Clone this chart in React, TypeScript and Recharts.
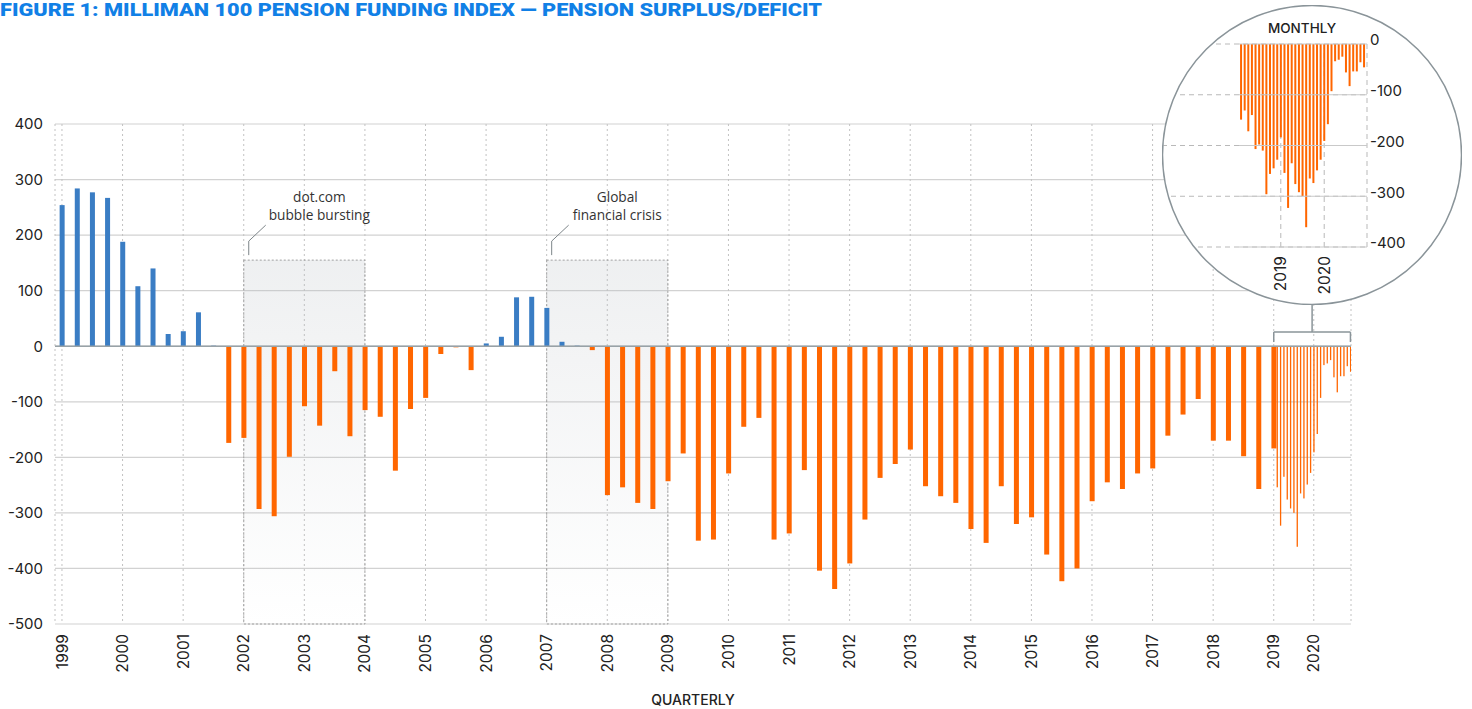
import React from 'react'
import {
  BarChart, Bar, XAxis, YAxis, CartesianGrid, ReferenceLine, ReferenceArea,
} from 'recharts'

// ── Data ──────────────────────────────────────────────────────────────────────

// Quarter-end surplus/deficit ($B), Dec 1998 → Dec 2018 (one bar per quarter)
const QUARTERLY_VALUES = [
  254, 284, 277, 267, 188, 108, 140, 22, 27, 61, 1,
  -174, -165, -293, -306, -199, -108, -143, -45, -162, -115,
  -127, -224, -113, -93, -14, -2, -43, 5, 17, 88,
  89, 69, 8, 1, -7, -268, -254, -282, -293, -243,
  -193, -350, -348, -229, -145, -129, -348, -337, -223, -404,
  -437, -391, -312, -237, -212, -186, -252, -270, -282, -329,
  -354, -252, -320, -308, -375, -423, -400, -279, -245, -257,
  -229, -220, -161, -123, -95, -170, -170, -198, -257, -184,
]

// Month-end, Jan 2018 → Nov 2020 (inset shows all, main chart from Jan 2019)
const MONTHLY_VALUES = [
  -149, -131, -172, -140, -207, -198, -210, -296, -256, -245, -228, -184,
  -254, -323, -235, -276, -292, -300, -361, -265, -274, -249, -228, -191,
  -158, -93, -34, -31, -25, -56, -83, -54, -54, -36, -46,
]

const YEAR_LABELS = [
  '1999', '2000', '2001', '2002', '2003', '2004', '2005', '2006', '2007', '2008', '2009',
  '2010', '2011', '2012', '2013', '2014', '2015', '2016', '2017', '2018', '2019', '2020',
]
const Y_TICKS = [400, 300, 200, 100, 0, -100, -200, -300, -400, -500]
const INSET_YEAR_LABELS = ['2019', '2020']
const INSET_Y_TICKS = [0, -100, -200, -300, -400]

const EVENTS = [
  { lines: ['dot.com', 'bubble bursting'], from: '2002', to: '2004', textDx: 15 },
  { lines: ['Global', 'financial crisis'], from: '2007', to: '2009', textDx: 10 },
]

// ── Layout helpers ────────────────────────────────────────────────────────────

const BLUE = '#3a7dc4'
const ORANGE = '#ff6600'
const FONT = 'Inter, "DejaVu Sans", sans-serif'

const Q_PX = 15.14                       // px per quarter slot
const MONTH_STEP = 40 / 12 / Q_PX        // monthly slots are squeezed after 2019
const LAST_Q = QUARTERLY_VALUES.length - 1
const FIRST_MONTH_IN_MAIN = 12           // Jan 2019

function posOfYear(label: string) {
  const y = Number(label)
  return y <= 2019 ? (y - 1999) * 4 : LAST_Q + (y - 2019) * 12 * MONTH_STEP
}

const mainData = [
  ...QUARTERLY_VALUES.map((v, i) => ({ pos: i, value: v, kind: 'q' })),
  ...MONTHLY_VALUES.slice(FIRST_MONTH_IN_MAIN).map((v, j) => ({
    pos: LAST_Q + (j + 1) * MONTH_STEP, value: v, kind: 'm',
  })),
]
const yearTicks = YEAR_LABELS.map(posOfYear)
const lastPos = mainData[mainData.length - 1].pos
const bracketMid = (LAST_Q + lastPos) / 2

const insetData = MONTHLY_VALUES.map((v, i) => ({ idx: i, value: v }))
// Year tick sits on the December bar of the previous year
const insetTicks = INSET_YEAR_LABELS.map(l => 11 + 12 * (Number(l) - 2019))

// ── Shapes ────────────────────────────────────────────────────────────────────

function MainBar(props: any) {
  const { x, y, width, height, payload } = props
  const w = payload.kind === 'm' ? 1.3 : 5
  const cx = x + width / 2
  const top = Math.min(y, y + height)
  return <rect x={cx - w / 2} y={top} width={w} height={Math.abs(height)} fill={payload.value >= 0 ? BLUE : ORANGE} />
}

function InsetBar(props: any) {
  const { x, y, width, height } = props
  const cx = x + width / 2
  const top = Math.min(y, y + height)
  return <rect x={cx - 1} y={top} width={2} height={Math.abs(height)} fill={ORANGE} />
}

function makeYearTick(labelOf: (v: number) => string) {
  return function YearTick(props: any) {
    const { x, y, payload } = props
    return (
      <text
        x={x} y={y} dy="0.36em"
        transform={`rotate(-90, ${x}, ${y})`}
        textAnchor="end"
        fontSize={15.5}
        fontFamily={FONT}
        fill="#222"
      >
        {labelOf(payload.value)}
      </text>
    )
  }
}

const MainYearTick = makeYearTick(v => YEAR_LABELS[yearTicks.findIndex(t => Math.abs(t - v) < 1e-6)] ?? '')
const InsetYearTick = makeYearTick(v => INSET_YEAR_LABELS[insetTicks.indexOf(v)] ?? '')

function InsetValueTick(props: any) {
  const { x, y, payload } = props
  return (
    <text x={x} y={y - 4} dy="0.35em" textAnchor="start" fontSize={15} fontFamily={FONT} fill="#222">
      {payload.value}
    </text>
  )
}

function eventLabel(lines: string[], textDx: number) {
  return function EventLabel(props: any) {
    const vb = props.viewBox
    if (!vb) return null
    const { x, y, width } = vb
    return (
      <g>
        <polyline
          points={`${x + 5},${y - 5} ${x + 5},${y - 19} ${x + 22},${y - 35}`}
          fill="none" stroke="#7d8589" strokeWidth={1}
        />
        {lines.map((ln, k) => (
          <text
            key={k}
            x={x + width / 2 + textDx}
            y={y - 58 + k * 18}
            textAnchor="middle"
            fontSize={13.7}
            fontFamily='"Open Sans", sans-serif'
            fill="#333"
          >
            {ln}
          </text>
        ))}
      </g>
    )
  }
}

// ── App ───────────────────────────────────────────────────────────────────────

export default function App() {
  return (
    <div style={{ position: 'absolute', left: 0, top: 0, width: 1472, height: 709, background: '#fff', overflow: 'hidden' }}>
      <svg width={830} height={20} style={{ position: 'absolute', left: 0, top: 0 }}>
        <text
          x={0} y={15.5}
          textLength={822} lengthAdjust="spacingAndGlyphs"
          fontSize={17.5} fontWeight={900}
          fontFamily='Roboto, sans-serif'
          fill="#1180e6"
        >
          FIGURE 1: MILLIMAN 100 PENSION FUNDING INDEX — PENSION SURPLUS/DEFICIT
        </text>
      </svg>

      <div style={{ position: 'absolute', left: 0, top: 0 }}>
        <BarChart width={1360} height={709} data={mainData} margin={{ top: 124, right: 9, bottom: 0, left: 0 }}>
          <defs>
            <linearGradient id="shade" x1="0" y1="0" x2="0" y2="1">
              <stop offset="0" stopColor="#b4bac0" stopOpacity={0.22} />
              <stop offset="1" stopColor="#b4bac0" stopOpacity={0} />
            </linearGradient>
          </defs>
          <CartesianGrid vertical={false} stroke="#d2d2d2" strokeWidth={1.2} />
          <CartesianGrid horizontal={false} stroke="#c2c2c2" strokeDasharray="2 3" />
          <XAxis
            type="number"
            dataKey="pos"
            domain={[-0.46, 85.1]}
            allowDataOverflow
            ticks={yearTicks}
            interval={0}
            height={85}
            axisLine={false}
            tickLine={false}
            tickSize={0}
            tickMargin={10}
            tick={<MainYearTick />}
          />
          <YAxis
            domain={[-500, 400]}
            ticks={Y_TICKS}
            interval={0}
            width={55}
            axisLine={false}
            tickLine={false}
            tickSize={0}
            tickMargin={12}
            tick={{ fontSize: 15, fill: '#222', fontFamily: FONT }}
          />
          {EVENTS.map(e => (
            <ReferenceArea
              key={e.from}
              x1={posOfYear(e.from)}
              x2={posOfYear(e.to)}
              y1={-500}
              y2={155}
              fill="url(#shade)"
              fillOpacity={1}
              stroke="#a0a0a0"
              strokeDasharray="2 2"
              strokeWidth={1}
              label={{ content: eventLabel(e.lines, e.textDx) } as any}
            />
          ))}
          <ReferenceLine y={0} stroke="#98a2a7" strokeWidth={1.5} />
          <Bar dataKey="value" shape={MainBar} isAnimationActive={false} />
          {/* bracket tying the monthly bars to the inset */}
          <ReferenceLine segment={[{ x: LAST_Q, y: 25.5 }, { x: lastPos, y: 25.5 }]} stroke="#8a9499" strokeWidth={1.5} />
          <ReferenceLine segment={[{ x: LAST_Q, y: 25.5 }, { x: LAST_Q, y: 7.5 }]} stroke="#8a9499" strokeWidth={1.5} />
          <ReferenceLine segment={[{ x: lastPos, y: 25.5 }, { x: lastPos, y: 7.5 }]} stroke="#8a9499" strokeWidth={1.5} />
          <ReferenceLine segment={[{ x: bracketMid, y: 25.5 }, { x: bracketMid, y: 90 }]} stroke="#8a9499" strokeWidth={1.5} />
        </BarChart>
      </div>

      <div style={{
        position: 'absolute', left: 593, top: 692, width: 200, textAlign: 'center',
        fontFamily: FONT, fontSize: 14, fontWeight: 500, lineHeight: '16px', color: '#222',
      }}>
        QUARTERLY
      </div>

      {/* Monthly inset */}
      <div style={{ position: 'absolute', left: 1162, top: 5, width: 300, height: 300 }}>
        <svg width={300} height={300} style={{ position: 'absolute', left: 0, top: 0 }}>
          <circle cx={150} cy={150} r={149.5} fill="#fff" />
        </svg>
        <div style={{ position: 'absolute', left: 0, top: 0, width: 300, height: 300, clipPath: 'circle(149px at 150px 150px)' }}>
          <BarChart width={300} height={300} data={insetData} margin={{ top: 39, right: 0, bottom: 0, left: 0 }}>
            <CartesianGrid stroke="#b9b9b9" strokeDasharray="5 4" />
            <XAxis
              type="number"
              dataKey="idx"
              domain={[-21.84, 34.83]}
              allowDataOverflow
              ticks={insetTicks}
              interval={0}
              height={58}
              axisLine={false}
              tickLine={false}
              tickSize={0}
              tickMargin={9}
              tick={<InsetYearTick />}
            />
            <YAxis
              orientation="right"
              domain={[-400, 0]}
              ticks={INSET_Y_TICKS}
              interval={0}
              width={95}
              axisLine={false}
              tickLine={false}
              tickSize={0}
              tickMargin={3}
              tick={<InsetValueTick />}
            />
            {INSET_Y_TICKS.map(t => (
              <ReferenceLine key={t} segment={[{ x: -0.55, y: t }, { x: 34.83, y: t }]} stroke="#c9c9c9" strokeWidth={1.2} />
            ))}
            <Bar dataKey="value" shape={InsetBar} isAnimationActive={false} />
          </BarChart>
          <div style={{
            position: 'absolute', left: 80, top: 15, width: 120, textAlign: 'center',
            fontFamily: FONT, fontSize: 13.5, fontWeight: 500, lineHeight: '16px', color: '#222',
          }}>
            MONTHLY
          </div>
        </div>
        <svg width={300} height={300} style={{ position: 'absolute', left: 0, top: 0, pointerEvents: 'none' }}>
          <circle cx={150} cy={150} r={149.5} fill="none" stroke="#8a9499" strokeWidth={1.5} />
        </svg>
      </div>
    </div>
  )
}
